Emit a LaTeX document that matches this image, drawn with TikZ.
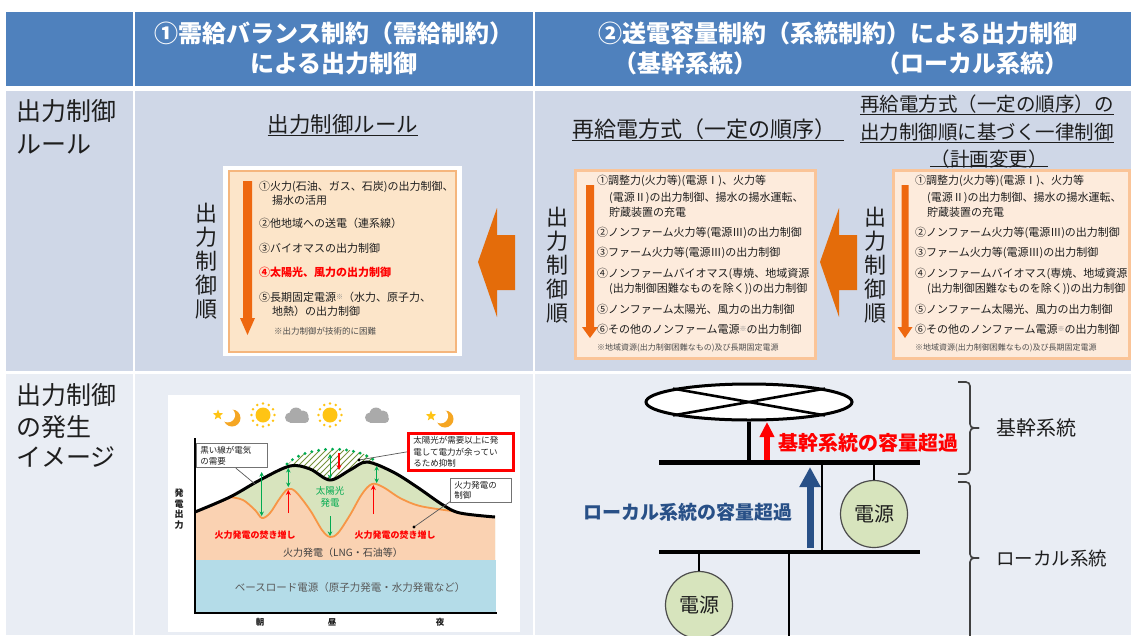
\documentclass[tikz,border=0pt]{standalone}
\usepackage{fontspec}
\setmainfont{Noto Sans CJK JP}
\usetikzlibrary{arrows.meta,shapes.geometric}

\definecolor{hdrblue}{RGB}{79,129,189}
\definecolor{rowtwo}{RGB}{207,215,231}
\definecolor{rowthree}{RGB}{233,237,244}
\definecolor{ruleFill}{RGB}{252,229,201}
\definecolor{ruleLine}{RGB}{245,182,125}
\definecolor{listFill}{RGB}{253,235,220}
\definecolor{listLine}{RGB}{250,196,152}
\definecolor{bigOrange}{RGB}{228,108,10}
\definecolor{downOrange}{RGB}{238,104,16}
\definecolor{txt}{RGB}{30,30,30}
\definecolor{chPeach}{RGB}{250,210,178}
\definecolor{chGreen}{RGB}{216,228,190}
\definecolor{chBlue}{RGB}{180,220,232}
\definecolor{chOrange}{RGB}{247,150,70}
\definecolor{chGreenLine}{RGB}{0,170,80}
\definecolor{hatchGreen}{RGB}{118,146,60}
\definecolor{sunYel}{RGB}{255,196,20}
\definecolor{moonOr}{RGB}{245,166,35}
\definecolor{cloudGray}{RGB}{170,170,170}
\definecolor{srcFill}{RGB}{215,228,189}
\definecolor{navy}{RGB}{40,80,135}
\definecolor{alarmRed}{RGB}{255,0,0}
\newcommand\fsz[2]{\fontsize{#1}{#2}\selectfont}
\newcommand\smallmark{{\color{black!45}\fsz{7}{7}\raisebox{2pt}{※}}}

\begin{document}
\begin{tikzpicture}[x=1pt,y=-1pt,
  hdr/.style={text=white,inner sep=0pt,font=\fsz{24}{24}\bfseries},
  side/.style={anchor=west,inner sep=0pt,text=txt,font=\fsz{25}{25}},
  subt/.style={inner sep=0pt,text=txt,text height=18pt,text depth=3pt},
  li/.style={anchor=west,inner sep=0pt,text=txt,font=\fsz{11}{11},text height=9.5pt,text depth=1.5pt},
  fn/.style={anchor=west,inner sep=0pt,text=black!70,font=\fsz{8.5}{8.5}},
  vert/.style={align=center,inner sep=0pt,text=txt,font=\fsz{22}{24}},
  downarrow/.style={fill=downOrange},
  bigarrow/.style={fill=bigOrange},
  uline/.style={draw=txt,line width=1},
  callout/.style={draw=black!55,fill=white,line width=0.7,anchor=north west,align=left,inner xsep=4,inner ysep=3,font=\fsz{8.5}{10.5},text=txt},
  leader/.style={draw=black!65,line width=0.7},
  garrow/.style={draw=chGreenLine,line width=1,{Stealth[length=4.5pt,width=4.5pt]}-{Stealth[length=4.5pt,width=4.5pt]}},
  garrowdown/.style={draw=chGreenLine,line width=1,-{Stealth[length=4.5pt,width=4.5pt]}},
  rarrow/.style={draw=alarmRed,line width=1.3,-{Stealth[length=5pt,width=5pt]}},
  wire/.style={draw=black,line width=2.5},
  src/.style={circle,draw=black!70,fill=srcFill,line width=1.2,minimum size=67,inner sep=0pt,font=\fsz{20}{20},text=txt},
  brace/.style={draw=black!75,line width=1.6,rounded corners=4},
  sunicon/.pic={
    \foreach \a in {0,30,...,330} \fill[sunYel] (\a:11.5) circle (1.4);
    \fill[sunYel] (0,0) circle (7.5);
  },
  cloudicon/.pic={
    \fill[cloudGray] (-7,1.5) circle (5);
    \fill[cloudGray] (-1,-2) circle (6.5);
    \fill[cloudGray] (6,0) circle (5.5);
    \fill[cloudGray] (8,3) circle (4);
    \fill[cloudGray] (-7,2) rectangle (8,6.8);
  },
  moonicon/.pic={
    \fill[moonOr] (0,0) circle (8.5);
    \fill[white] (-4.3,-3) circle (7.4);
    \fill[sunYel] (-14,-3) +(270:5.5) -- +(306:2.3) -- +(342:5.5) -- +(18:2.3) -- +(54:5.5) -- +(90:2.3) -- +(126:5.5) -- +(162:2.3) -- +(198:5.5) -- +(234:2.3) -- cycle;
  }
]
\useasboundingbox (0,0) rectangle (1131,635);
\clip (0,0) rectangle (1131,635);
\fill[white] (0,0) rectangle (1131,635);

% ---------- table background ----------
\fill[hdrblue] (6,12) rectangle (133,86);
\fill[hdrblue] (135,12) rectangle (533,86);
\fill[hdrblue] (535,12) rectangle (1131,86);
\fill[rowtwo] (6,91) rectangle (133,371);
\fill[rowtwo] (135,91) rectangle (533,371);
\fill[rowtwo] (535,91) rectangle (1131,371);
\fill[rowthree] (6,374) rectangle (133,635);
\fill[rowthree] (135,374) rectangle (533,635);
\fill[rowthree] (535,374) rectangle (1131,635);

% ---------- header ----------
\node[hdr] (h1a) at (334,33) {①需給バランス制約（需給制約）};
\node[hdr] (h1b) at (334,63) {による出力制御};
\node[hdr] (h2a) at (838,33) {②送電容量制約（系統制約）による出力制御};
\node[hdr] (h2b) at (685,63) {（基幹系統）};
\node[hdr] (h2c) at (972,63) {（ローカル系統）};

% ---------- row labels ----------
\node[side] (r2a) at (16,111) {出力制御};
\node[side] (r2b) at (16,144) {ルール};
\node[side] (r3a) at (16,395) {出力制御};
\node[side] (r3b) at (16,427) {の発生};
\node[side] (r3c) at (16,457) {イメージ};

% ---------- sub titles ----------
\node[subt,font=\fsz{21.5}{21.5}] (st1) at (343,125) {出力制御ルール};
\draw[uline] (st1.south west) -- (st1.south east);
\node[subt,font=\fsz{22}{22}] (st2) at (704,130) {再給電方式（一定の順序）};
\draw[uline] (st2.south west) -- ([xshift=8]st2.south east);
\node[subt,font=\fsz{19.5}{19.5}] (st3a) at (987,104) {再給電方式（一定の順序）の};
\node[subt,font=\fsz{19.5}{19.5}] (st3b) at (987,132) {出力制御順に基づく一律制御};
\node[subt,font=\fsz{19.5}{19.5}] (st3c) at (989,159) {（計画変更）};
\draw[uline] (st3a.south west) -- (st3a.south east);
\draw[uline] (st3b.south west) -- (st3b.south east);

% ---------- rule box (left) ----------
\fill[white] (223,166) rectangle (462,356);
\filldraw[fill=ruleFill,draw=ruleLine,line width=1.3] (229,171) rectangle (456,352);
\fill[downarrow] (243,181) -- (252,181) -- (252,318) -- (255,318) -- (247.5,335) -- (240,318) -- (243,318) -- cycle;
\node[vert] (v1) at (206,261) {出\\力\\制\\御\\順};
\foreach \n/\xx/\yy/\tx in {
  a/259/186/{①火力(石油、ガス、石炭)の出力制御、},
  b/272/200/{揚水の活用},
  c/259/223/{②他地域への送電（連系線）},
  d/259/248/{③バイオマスの出力制御},
  f/259/297/{⑤長期固定電源\smallmark（水力、原子力、},
  g/272/311/{地熱）の出力制御}}
  \node[li,name=A\n] at (\xx,\yy) {\tx};
\node[li,text=alarmRed,font=\fsz{11}{11}\bfseries] (Ae) at (259,272) {④太陽光、風力の出力制御};
\node[fn] (An) at (274,331) {※出力制御が技術的に困難};

% ---------- order lists (right column) ----------
\filldraw[fill=listFill,draw=listLine,line width=3] (575,170) rectangle (815,358);
\filldraw[fill=listFill,draw=listLine,line width=3] (893,170) rectangle (1129,358);
\draw[uline] (st3c.west |- 0,166.5) -- (st3c.east |- 0,166.5);
\fill[downarrow] (586,185) -- (594,185) -- (594,327) -- (598,327) -- (590,338) -- (582,327) -- (586,327) -- cycle;
\fill[downarrow] (901.5,185) -- (908.5,185) -- (908.5,327) -- (912.5,327) -- (905,338) -- (897.5,327) -- (901.5,327) -- cycle;
\node[vert] (v2) at (557,265) {出\\力\\制\\御\\順};
\node[vert] (v3) at (875,265) {出\\力\\制\\御\\順};
\foreach \k/\x in {B/597,C/915}{
  \foreach \n/\dx/\yy/\tx in {
    a/0/180/{①調整力(火力等)(電源Ⅰ)、火力等},
    b/12/197/{(電源Ⅱ)の出力制御、揚水の揚水運転、},
    c/12/212/{貯蔵装置の充電},
    d/0/232/{②ノンファーム火力等(電源Ⅲ)の出力制御},
    e/0/252/{③ファーム火力等(電源Ⅲ)の出力制御},
    f/0/273/{④ノンファームバイオマス(専焼、地域資源},
    g/12/288/{(出力制御困難なものを除く))の出力制御},
    h/0/309/{⑤ノンファーム太陽光、風力の出力制御},
    i/0/329/{⑥その他のノンファーム電源\smallmark の出力制御}}
    \node[li,name=\k\n] at (\x+\dx,\yy) {\tx};
  \node[fn,font=\fsz{8}{8},name=\k n] at (\x,348) {※地域資源(出力制御困難なもの)及び長期固定電源};
}

% ---------- big left arrows ----------
\fill[bigarrow] (478,262) -- (497,208) -- (497,235) -- (515,235) -- (515,290) -- (497,290) -- (497,317) -- cycle;
\fill[bigarrow] (820,262) -- (839,208) -- (839,235) -- (857,235) -- (857,290) -- (839,290) -- (839,317) -- cycle;

% ---------- daily curve chart ----------
\fill[white] (168,395) rectangle (520,632);
\pic at (232,418) {moonicon};
\pic at (263,415) {sunicon};
\pic at (297,416) {cloudicon};
\pic at (330,415) {sunicon};
\pic at (377,416) {cloudicon};
\pic at (445,419) {moonicon};

% hatched surplus above the demand dip
\begin{scope}
  \clip (288,464) .. controls (305,446) and (352,444) .. (374,459) -- (374,492) -- (288,492) -- cycle;
  \foreach \i in {240,246,...,380}
    \draw[hatchGreen,line width=0.8] (\i,500) -- ++(50,-50);
\end{scope}
% area under demand curve
\fill[chGreen] (195,613) -- plot[smooth,tension=0.55] coordinates {(195,512) (230,497) (260,480) (290,466) (310,469) (330,480) (350,470) (367,462) (393,472) (417,487) (443,505) (460,513) (495,517)} -- (495,613) -- cycle;
% thermal generation under the orange line
\fill[chPeach] (195,613) -- plot[smooth,tension=0.55] coordinates {(195,512) (230,497) (243,500) (255,510) (262,518) (270,513) (280,498) (288,489) (296,492) (310,510) (322,530) (330,537) (338,533) (350,515) (362,494) (372,484) (383,487) (400,498) (420,506) (450,510) (460,513) (495,517)} -- (495,613) -- cycle;
\fill[chBlue] (195,560) rectangle (496,613);
% thermal output line
\draw[chOrange,line width=1.8] plot[smooth,tension=0.55] coordinates {(230,497) (243,500) (255,510) (262,518) (270,513) (280,498) (288,489) (296,492) (310,510) (322,530) (330,537) (338,533) (350,515) (362,494) (372,484) (383,487) (400,498) (420,506) (452,511)};
% demand line
\draw[black,line width=3] plot[smooth,tension=0.55] coordinates {(195,512) (230,497) (260,480) (290,466) (310,469) (330,480) (350,470) (367,462) (393,472) (417,487) (443,505) (460,513) (495,517)};
% potential solar output (dotted)
\draw[chGreenLine,line width=3.2,line cap=round,dash pattern=on 0pt off 7pt] (287,464) .. controls (305,446) and (352,444) .. (374,460);
% axes
\draw[black,line width=1.3] (195,438) -- (195,613) -- (497,613);

% arrows
\draw[garrow] (261.7,472) -- (261.7,516);
\draw[garrow] (288.3,468) -- (288.3,487);
\draw[garrow] (330,454) -- (330,479);
\draw[garrowdown] (330,516) -- (330,536);
\draw[garrow] (376.7,466) -- (376.7,483);
\draw[rarrow] (288.3,513) -- (288.3,490);
\draw[rarrow] (373.3,514) -- (373.3,485);
\draw[rarrow] (339,453) -- (339,470);

% chart texts
\node[align=center,inner sep=0pt,text=chGreenLine,font=\fsz{9.5}{11.5}] (solar) at (330,497) {太陽光\\発電};
\node[inner sep=0pt,text=alarmRed,font=\fsz{9}{9}\bfseries] (boostL) at (255,535) {火力発電の焚き増し};
\node[inner sep=0pt,text=alarmRed,font=\fsz{9}{9}\bfseries] (boostR) at (395,535) {火力発電の焚き増し};
\node[inner sep=0pt,text=black!75,font=\fsz{10}{10}] (thermal) at (343,553) {火力発電（LNG・石油等）};
\node[inner sep=0pt,text=black!65,font=\fsz{10.5}{10.5}] (base) at (350,587) {ベースロード電源（原子力発電・水力発電など）};
\node[align=center,inner sep=0pt,text=txt,font=\fsz{9}{10.5}\bfseries] (yl) at (179,509) {発\\電\\出\\力};
\node[inner sep=0pt,text=txt,font=\fsz{8.5}{8.5}\bfseries] (tm) at (260,622) {朝};
\node[inner sep=0pt,text=txt,font=\fsz{8.5}{8.5}\bfseries] (tn) at (332,622) {昼};
\node[inner sep=0pt,text=txt,font=\fsz{8.5}{8.5}\bfseries] (te) at (440,622) {夜};

% callouts
\node[callout,text width=63] (cb1) at (196,443) {黒い線が電気\\の需要};
\node[callout,draw=alarmRed,line width=2.8,text width=95,inner xsep=5,font=\fsz{8.5}{11.5}] (cb2) at (407,432) {太陽光が需要以上に発\\電して電力が余ってい\\るため抑制};
\node[callout,text width=53] (cb3) at (450,478) {火力発電の\\制御};
\coordinate (p1) at (255,484);
\coordinate (p2) at (359,460);
\coordinate (p3) at (414,527);
\draw[leader] ([xshift=4]cb1.south) -- (p1);
\draw[leader] (p2) -- (cb2.west);
\draw[leader] (p3) -- (cb3.200);
\fill[black] (p2) circle (1.6);
\fill[black] (p3) circle (1.6);

% ---------- grid overload image ----------
\coordinate (tbL) at (659,462);
\coordinate (tbR) at (920,462);
\coordinate (bbL) at (659,552);
\coordinate (bbR) at (920,552);
\coordinate (tie) at (822,462);
\coordinate (tieB) at (822,552);
\coordinate (feed) at (789,552);
\coordinate (feedEnd) at (789,640);
\node[ellipse,draw=black,fill=white,line width=3,minimum width=206,minimum height=36] (ring) at (749,402) {};
\draw[black,line width=2.6] (ring.10) -- (ring.190);
\draw[black,line width=2.6] (ring.170) -- (ring.350);
\node[src] (src1) at (874,514) {電源};
\node[src] (src2) at (699,605) {電源};
\draw[black,line width=4.5] (ring.south) -- (ring.south |- tbL);
\draw[black,line width=5] (tbL) -- (tbR);
\draw[black,line width=3.5] (bbL) -- (bbR);
\draw[wire] (tie) -- (tieB);
\draw[wire] (src1.north |- tbL) -- (src1.north);
\draw[wire] (src2.north |- bbL) -- (src2.north);
\draw[wire] (feed) -- (feedEnd);
\draw[alarmRed,line width=6,-{Triangle[length=15pt,width=14pt]}] (767,460) -- (767,422);
\draw[navy,line width=7,-{Triangle[length=20pt,width=20pt]}] (810,548) -- (810,467);
\node[inner sep=0pt,text=alarmRed,font=\fsz{20}{20}\bfseries] (lblT) at (868,443) {基幹系統の容量超過};
\node[inner sep=0pt,text=navy,font=\fsz{19}{19}\bfseries] (lblL) at (688,512) {ローカル系統の容量超過};

% braces
\draw[brace] (958,382) -- (970,382) -- (970,428) -- (979,428);
\draw[brace] (979,428) -- (970,428) -- (970,474) -- (958,474);
\draw[brace] (958,482) -- (970,482) -- (970,558) -- (979,558);
\draw[brace] (979,558) -- (970,558) -- (970,650);
\node[anchor=west,inner sep=0pt,text=txt,font=\fsz{20}{20}] (trunk) at (996,428) {基幹系統};
\node[anchor=west,inner sep=0pt,text=txt,font=\fsz{18.5}{18.5}] (local) at (996,558) {ローカル系統};
\end{tikzpicture}
\end{document}
